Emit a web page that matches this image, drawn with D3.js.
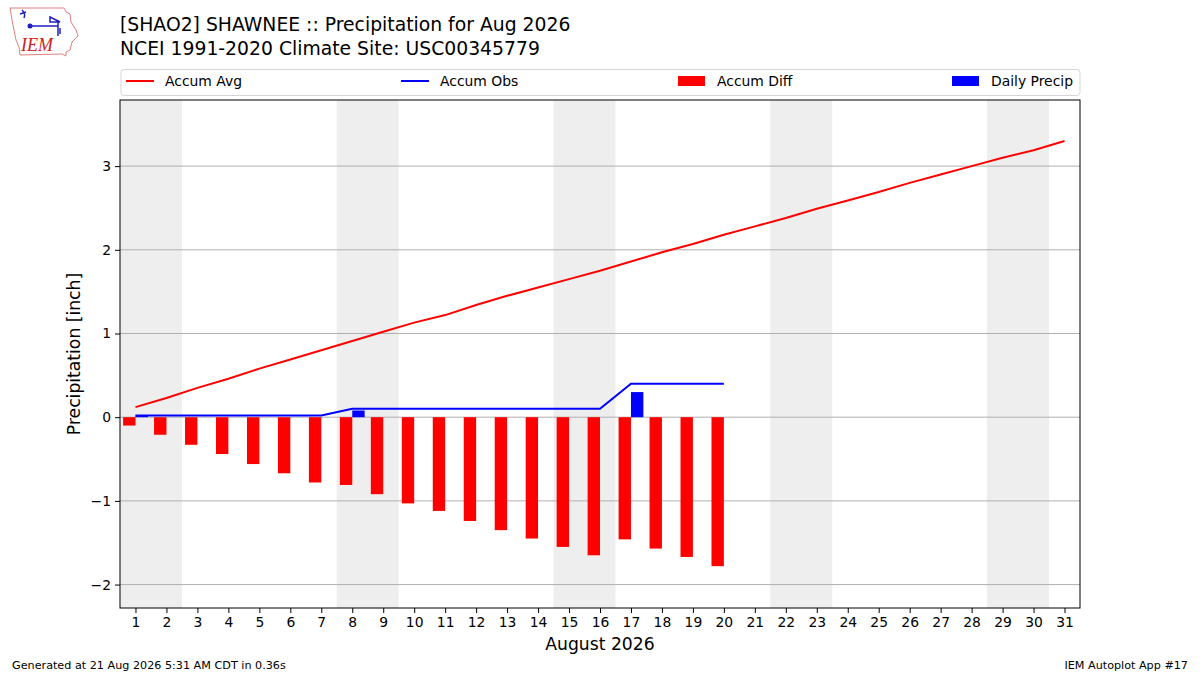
<!DOCTYPE html>
<html>
<head>
<meta charset="utf-8">
<script src="https://cdn.jsdelivr.net/npm/d3@7"></script>
<style>
body { margin: 0; background: #fff; }
svg text { font-family: "DejaVu Sans", sans-serif; fill: #000; }
</style>
</head>
<body>
<div id="chart"></div>
<script>
// days of the month
var days = d3.range(1, 32);
// climatology accumulated precip (inch)
var accumAvg = [0.12, 0.23, 0.35, 0.46, 0.58, 0.69, 0.80, 0.91, 1.02, 1.13,
	1.22, 1.34, 1.45, 1.55, 1.65, 1.75, 1.86, 1.97, 2.07, 2.18,
	2.28, 2.38, 2.49, 2.59, 2.69, 2.80, 2.90, 3.00, 3.10, 3.19, 3.30];
// observed daily precip, through the 20th
var obsDays = d3.range(1, 21);
var dailyPrecip = [0.02, 0, 0, 0, 0, 0, 0, 0.08, 0, 0,
	0, 0, 0, 0, 0, 0, 0.30, 0, 0, 0];
var accumObs = [0.02, 0.02, 0.02, 0.02, 0.02, 0.02, 0.02, 0.10, 0.10, 0.10,
	0.10, 0.10, 0.10, 0.10, 0.10, 0.10, 0.40, 0.40, 0.40, 0.40];
var accumDiff = [-0.10, -0.21, -0.33, -0.44, -0.56, -0.67, -0.78, -0.81, -0.92, -1.03,
	-1.12, -1.24, -1.35, -1.45, -1.55, -1.65, -1.46, -1.57, -1.67, -1.78];
// weekend (saturday) starts
var saturdays = [1, 8, 15, 22, 29];
var yTicks = [-2, -1, 0, 1, 2, 3];

var width = 1200, height = 675;
var pLeft = 120, pRight = 1080, pTop = 100, pBottom = 608;

var svg = d3.select("#chart")
	.append("svg")
	.attr("width", width)
	.attr("height", height);

var x = d3.scaleLinear().domain([0.5, 31.5]).range([pLeft, pRight]);
var y = d3.scaleLinear().domain([-2.28, 3.79]).range([pBottom, pTop]);

// weekend shading
svg.selectAll("rect.weekend")
	.data(saturdays)
	.enter().append("rect")
	.attr("class", "weekend")
	.attr("x", d => x(Math.max(d - 0.5, 0.5)))
	.attr("width", d => x(Math.min(d + 1.5, 31.5)) - x(Math.max(d - 0.5, 0.5)))
	.attr("y", pTop)
	.attr("height", pBottom - pTop)
	.attr("fill", "#eeeeee");

// horizontal grid
svg.selectAll("line.grid")
	.data(yTicks)
	.enter().append("line")
	.attr("x1", pLeft).attr("x2", pRight)
	.attr("y1", d => y(d)).attr("y2", d => y(d))
	.attr("stroke", "#b0b0b0")
	.attr("stroke-width", 1);

// accum diff bars, left of the day
svg.selectAll("rect.diff")
	.data(obsDays)
	.enter().append("rect")
	.attr("x", (d, i) => x(d - 0.4))
	.attr("width", x(1.4) - x(1))
	.attr("y", (d, i) => y(Math.max(0, accumDiff[i])))
	.attr("height", (d, i) => Math.abs(y(accumDiff[i]) - y(0)))
	.attr("fill", "red");

// daily precip bars, right of the day
svg.selectAll("rect.daily")
	.data(obsDays)
	.enter().append("rect")
	.attr("x", d => x(d))
	.attr("width", x(1.4) - x(1))
	.attr("y", (d, i) => y(dailyPrecip[i]))
	.attr("height", (d, i) => y(0) - y(dailyPrecip[i]))
	.attr("fill", "blue");

var line = d3.line().x(d => x(d[0])).y(d => y(d[1]));

svg.append("path")
	.datum(days.map((d, i) => [d, accumAvg[i]]))
	.attr("d", line)
	.attr("fill", "none")
	.attr("stroke", "red")
	.attr("stroke-width", 2);

svg.append("path")
	.datum(obsDays.map((d, i) => [d, accumObs[i]]))
	.attr("d", line)
	.attr("fill", "none")
	.attr("stroke", "blue")
	.attr("stroke-width", 2);

// frame
svg.append("rect")
	.attr("x", pLeft).attr("y", pTop)
	.attr("width", pRight - pLeft).attr("height", pBottom - pTop)
	.attr("fill", "none")
	.attr("stroke", "#000")
	.attr("stroke-width", 1);

// axes
var xAxis = svg.append("g")
	.attr("transform", "translate(0," + pBottom + ")")
	.call(d3.axisBottom(x).tickValues(days).tickFormat(d3.format("d")).tickSize(5).tickPadding(4));
var yAxis = svg.append("g")
	.attr("transform", "translate(" + pLeft + ",0)")
	.call(d3.axisLeft(y).tickValues(yTicks).tickFormat(d => d < 0 ? "\u2212" + Math.abs(d) : d).tickSize(5).tickPadding(4));
[xAxis, yAxis].forEach(function(g) {
	g.select(".domain").remove();
	g.selectAll("text").style("font-size", "13.9px").style("font-family", "DejaVu Sans");
	g.selectAll("line").attr("stroke", "#000");
});

// axis labels
svg.append("text")
	.attr("x", (pLeft + pRight) / 2)
	.attr("y", 650)
	.attr("text-anchor", "middle")
	.style("font-size", "17.2px")
	.text("August 2026");

svg.append("text")
	.attr("transform", "translate(80," + ((pTop + pBottom) / 2) + ") rotate(-90)")
	.attr("text-anchor", "middle")
	.style("font-size", "17.2px")
	.text("Precipitation [inch]");

// titles
svg.append("text")
	.attr("x", 120).attr("y", 31)
	.style("font-size", "18.8px")
	.text("[SHAO2] SHAWNEE :: Precipitation for Aug 2026");
svg.append("text")
	.attr("x", 120).attr("y", 55)
	.style("font-size", "18.8px")
	.text("NCEI 1991-2020 Climate Site: USC00345779");

// legend
var legend = svg.append("g");
legend.append("rect")
	.attr("x", 121).attr("y", 69.5)
	.attr("width", 959).attr("height", 26)
	.attr("rx", 3)
	.attr("fill", "#fff")
	.attr("stroke", "#d5d5d5");
var legendItems = [
	{label: "Accum Avg", color: "red", kind: "line", x0: 126},
	{label: "Accum Obs", color: "blue", kind: "line", x0: 401},
	{label: "Accum Diff", color: "red", kind: "patch", x0: 678},
	{label: "Daily Precip", color: "blue", kind: "patch", x0: 952}
];
legendItems.forEach(function(it) {
	if (it.kind == "line") {
		legend.append("line")
			.attr("x1", it.x0).attr("x2", it.x0 + 28)
			.attr("y1", 81).attr("y2", 81)
			.attr("stroke", it.color).attr("stroke-width", 2);
	} else {
		legend.append("rect")
			.attr("x", it.x0).attr("y", 76)
			.attr("width", 27).attr("height", 10)
			.attr("fill", it.color);
	}
	legend.append("text")
		.attr("x", it.x0 + 39).attr("y", 86)
		.style("font-size", "13.9px")
		.text(it.label);
});

// footer
svg.append("text")
	.attr("x", 12).attr("y", 669)
	.style("font-size", "11.2px")
	.text("Generated at 21 Aug 2026 5:31 AM CDT in 0.36s");
svg.append("text")
	.attr("x", 1188).attr("y", 669)
	.attr("text-anchor", "end")
	.style("font-size", "11.2px")
	.text("IEM Autoplot App #17");

// IEM logo, rough state outline
var logo = svg.append("g");
logo.append("path")
	.attr("d", "M10,8 L64,8 L66,12 L70,14 L71,22 L76,30 L78,36 L72,42 L70,50 L66,52 L66,56 L62,54 L20,55 L19,47 L16,40 L14,30 L12,20 Z")
	.attr("fill", "#fff")
	.attr("stroke", "#e08080")
	.attr("stroke-width", 1);
logo.append("path")
	.attr("d", "M22,10 q4,4 2,8 M20,14 l6,-2 M30,26 L58,26 M50,17 l10,5 l-10,0 z M58,20 L58,36 M60,28 l0,6")
	.attr("fill", "none")
	.attr("stroke", "#2020c0")
	.attr("stroke-width", 1.5);
logo.append("circle").attr("cx", 30).attr("cy", 26).attr("r", 2.5).attr("fill", "#2020c0");
logo.append("text")
	.attr("x", 21).attr("y", 51)
	.style("font-family", "Liberation Serif")
	.style("font-style", "italic")
	.style("font-size", "18px")
	.style("fill", "#d02020")
	.text("IEM");
</script>
</body>
</html>
